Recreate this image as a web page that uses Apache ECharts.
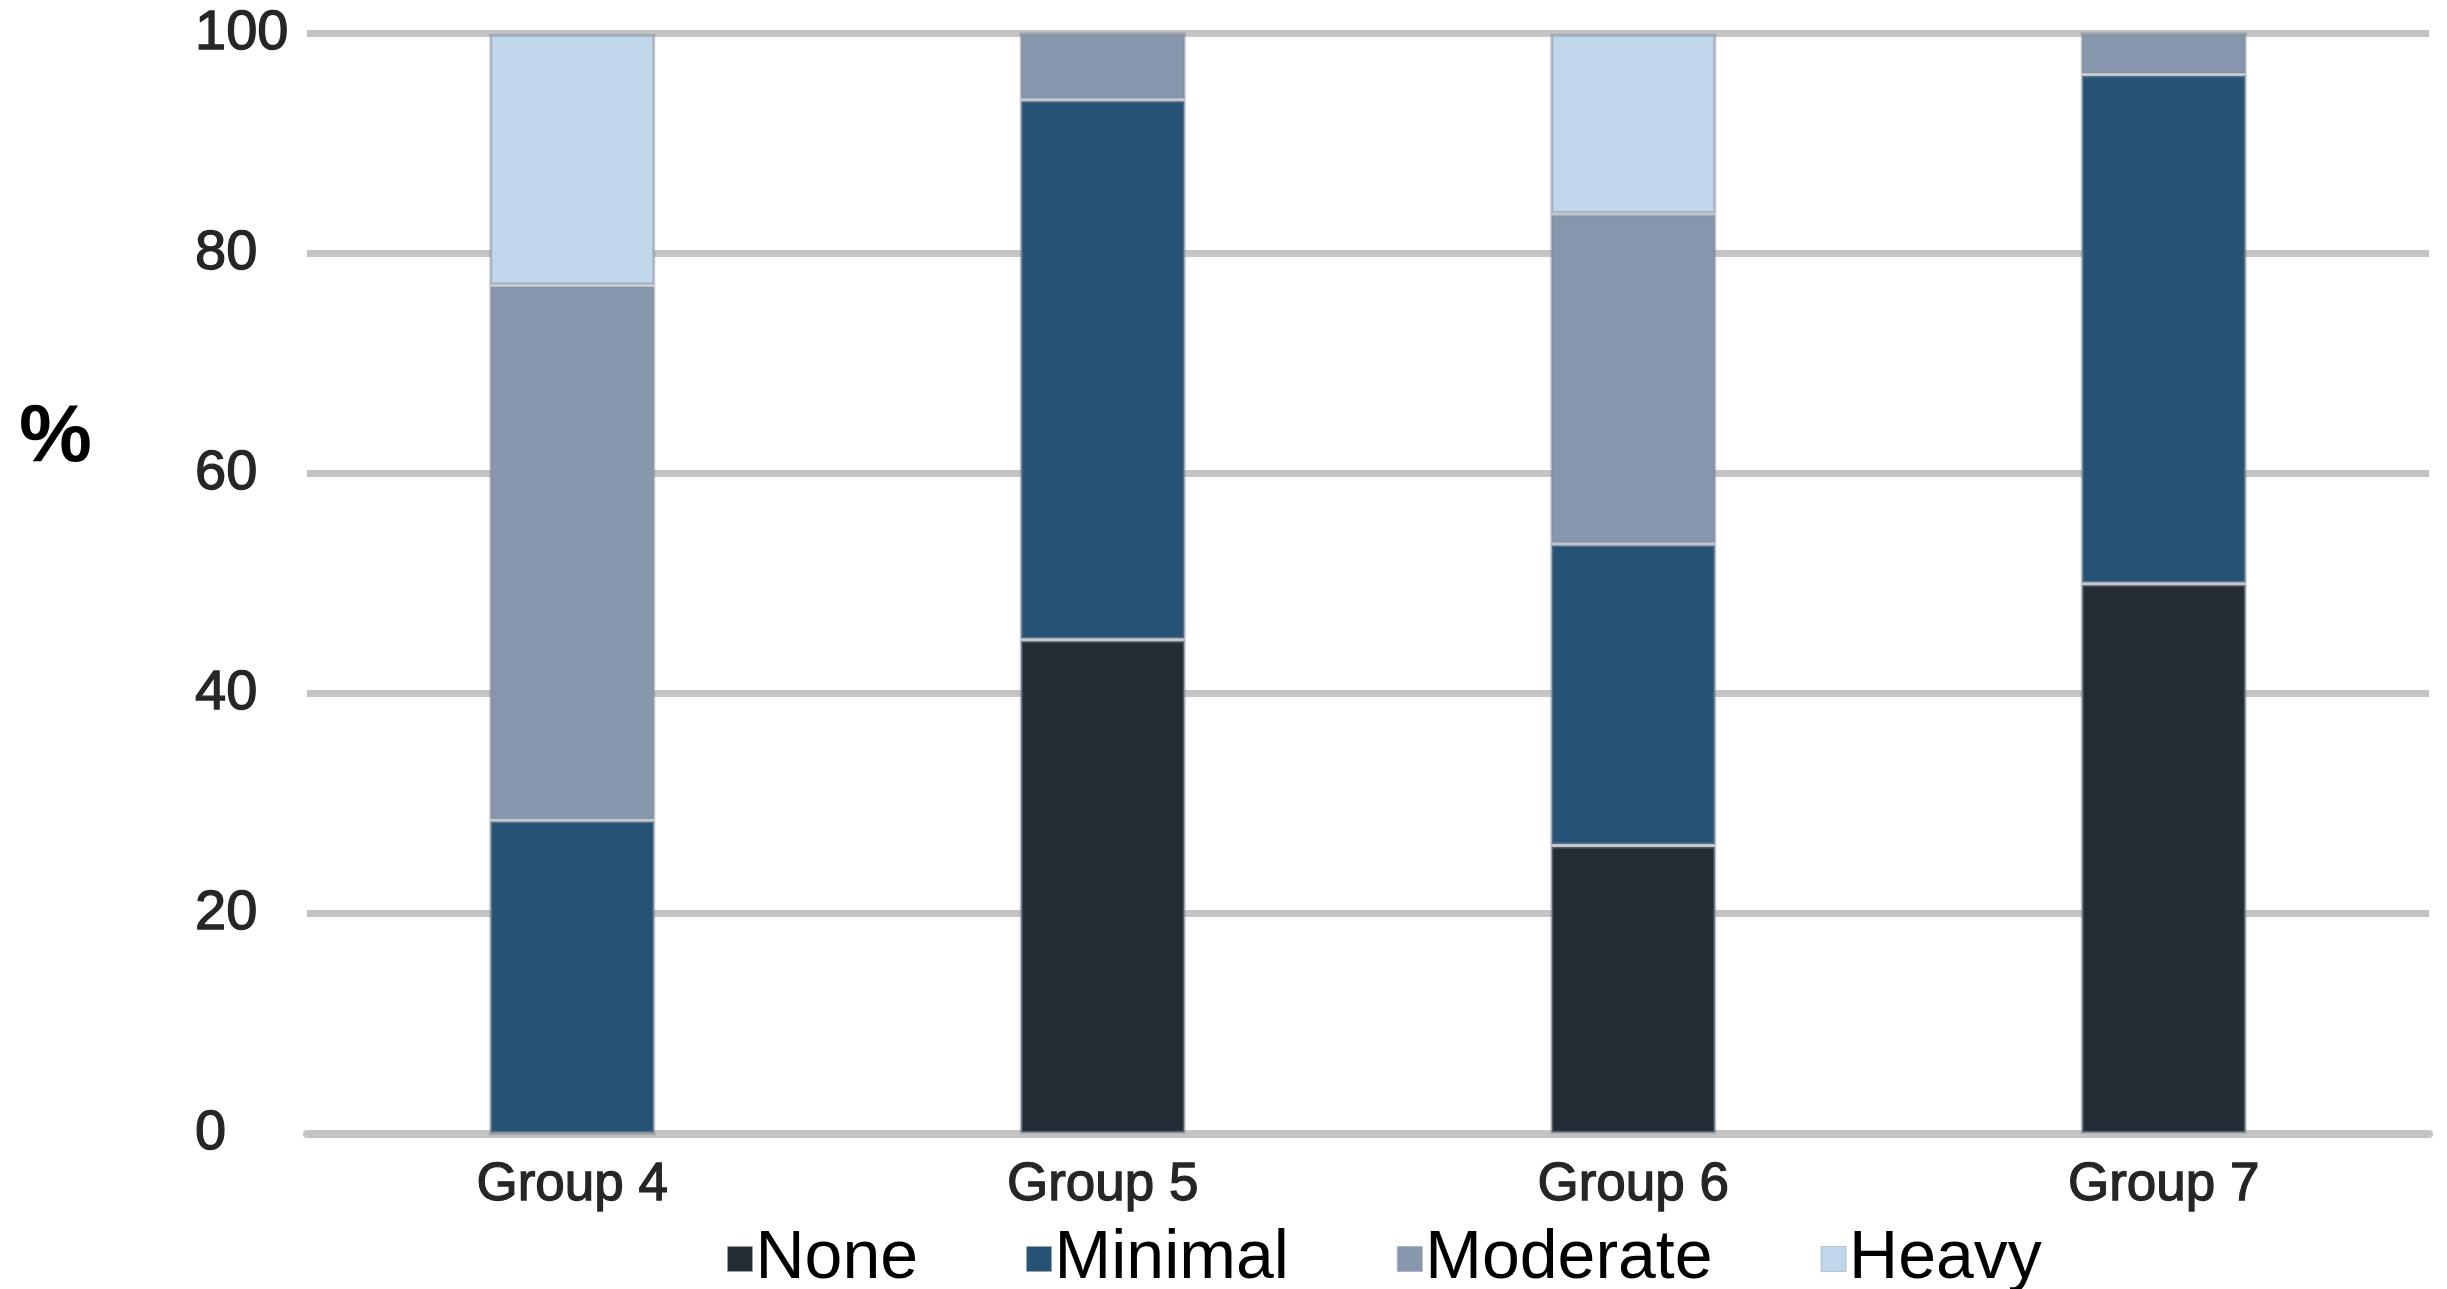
<!DOCTYPE html>
<html>
<head>
<meta charset="utf-8">
<script src="https://cdn.jsdelivr.net/npm/echarts@6/dist/echarts.min.js"></script>
<style>
  html, body { margin: 0; padding: 0; background: #ffffff; }
  #chart { width: 2447px; height: 1289px; }
</style>
</head>
<body>
<div id="chart"></div>
<script>
var categories = ['Group 4', 'Group 5', 'Group 6', 'Group 7'];
var seriesNames = ['None', 'Minimal', 'Moderate', 'Heavy'];
var noneValues = [0, 44.9, 26.2, 50.0];
var minimalValues = [28.5, 49.1, 27.4, 46.3];
var moderateValues = [48.6, 6.0, 30.0, 3.7];
var heavyValues = [22.9, 0, 16.4, 0];
var yTicks = [0, 20, 40, 60, 80, 100];

var colors = ['#232b35', '#265275', '#8697ae', '#c0d6eb'];
var valueLists = [noneValues, minimalValues, moderateValues, heavyValues];

var chart = echarts.init(document.getElementById('chart'));
var fontFamily = 'Liberation Sans, Arial, sans-serif';

var series = seriesNames.map(function (name, i) {
  return {
    name: name,
    type: 'bar',
    stack: 'total',
    barWidth: 166,
    data: valueLists[i],
    itemStyle: {
      color: colors[i],
      borderColor: 'rgba(130,140,152,0.5)',
      borderWidth: 3
    },
    emphasis: { disabled: true }
  };
});

chart.setOption({
  animation: false,
  backgroundColor: '#ffffff',
  title: {
    text: '%',
    left: 14,
    top: 392,
    textStyle: { fontFamily: fontFamily, fontSize: 82, fontWeight: 'bold', color: '#000000' }
  },
  grid: { left: 307, right: 18, top: 33.7, bottom: 155.3 },
  legend: {
    data: seriesNames,
    left: 722,
    top: 1220,
    icon: 'rect',
    itemWidth: 25,
    itemHeight: 25,
    itemGap: 108,
    itemStyle: { borderWidth: 1, borderColor: 'rgba(160,165,170,0.6)' },
    textStyle: { fontFamily: fontFamily, fontSize: 68, color: '#000000', padding: [0, 0, 0, -2] }
  },
  xAxis: {
    type: 'category',
    data: categories,
    axisTick: { show: false },
    axisLine: { show: true, lineStyle: { color: '#c4c4c4', width: 8 } },
    axisLabel: {
      fontFamily: fontFamily, fontSize: 53, color: '#262626', margin: 25,
      textBorderColor: '#262626', textBorderWidth: 1.3
    }
  },
  yAxis: {
    type: 'value',
    min: yTicks[0],
    max: yTicks[yTicks.length - 1],
    interval: yTicks[1] - yTicks[0],
    axisLine: { show: false },
    axisTick: { show: false },
    splitLine: { lineStyle: { color: '#c4c4c4', width: 7 } },
    axisLabel: {
      fontFamily: fontFamily, fontSize: 56, color: '#262626', align: 'left', margin: 112,
      textBorderColor: '#262626', textBorderWidth: 1.3
    }
  },
  series: series
});
</script>
</body>
</html>
